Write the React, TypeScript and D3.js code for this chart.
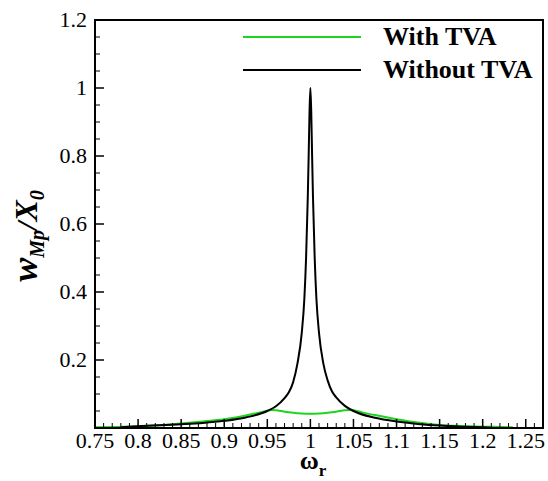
import React from "react";
import * as d3 from "d3";

// Frequency ratio samples and normalized midpoint response
const omegaWith = [0.75, 0.775, 0.8, 0.825, 0.85, 0.875, 0.9, 0.925, 0.94, 0.95, 0.955, 0.96, 0.97, 0.98, 0.99, 1.0, 1.01, 1.02, 1.03, 1.04, 1.045, 1.05, 1.06, 1.075, 1.1, 1.125, 1.15, 1.175, 1.2, 1.225, 1.235];
const responseWith = [0.002, 0.003, 0.005, 0.008, 0.013, 0.019, 0.026, 0.037, 0.045, 0.051, 0.053, 0.052, 0.048, 0.045, 0.043, 0.042, 0.043, 0.045, 0.048, 0.052, 0.053, 0.052, 0.046, 0.038, 0.026, 0.016, 0.009, 0.006, 0.004, 0.003, 0.002];

const omegaWithout = [0.78, 0.8, 0.85, 0.875, 0.9, 0.925, 0.95, 0.96, 0.97, 0.975, 0.98, 0.985, 0.99, 0.993, 0.995, 0.997, 0.998, 0.999, 1.0, 1.001, 1.002, 1.003, 1.005, 1.007, 1.01, 1.015, 1.02, 1.025, 1.03, 1.04, 1.05, 1.075, 1.1, 1.125, 1.15, 1.175, 1.2, 1.21];
const responseWithout = [0.002, 0.005, 0.011, 0.015, 0.021, 0.031, 0.05, 0.064, 0.088, 0.105, 0.135, 0.19, 0.28, 0.38, 0.5, 0.68, 0.8, 0.93, 1.0, 0.93, 0.8, 0.68, 0.5, 0.38, 0.28, 0.19, 0.14, 0.108, 0.09, 0.065, 0.05, 0.03, 0.019, 0.012, 0.007, 0.004, 0.002, 0.001];

const xMajorTicks = [0.75, 0.8, 0.85, 0.9, 0.95, 1, 1.05, 1.1, 1.15, 1.2, 1.25];
const yMajorTicks = [0.2, 0.4, 0.6, 0.8, 1, 1.2];

const seriesNames = ["With TVA", "Without TVA"];
const seriesColors = ["#1ed41e", "#000000"];

const W = 548;
const H = 481;
const left = 95;
const right = 543;
const top = 20;
const bottom = 428;

const serif = "'Liberation Serif', 'Times New Roman', 'DejaVu Serif', serif";

export default function App() {
  const x = d3.scaleLinear().domain([0.75, 1.27]).range([left, right]);
  const y = d3.scaleLinear().domain([0, 1.2]).range([bottom, top]);

  const line = d3
    .line<[number, number]>()
    .x((d) => x(d[0]))
    .y((d) => y(d[1]))
    .curve(d3.curveMonotoneX);

  const withData = omegaWith.map((o, i) => [o, responseWith[i]] as [number, number]);
  const withoutData = omegaWithout.map((o, i) => [o, responseWithout[i]] as [number, number]);

  const xMinor = d3.range(76, 127).map((v) => v / 100).filter((v) => Math.round(v * 100) % 5 !== 0);
  const yMinor = d3.range(1, 24).map((v) => v * 0.05).filter((v) => Math.round(v * 20) % 4 !== 0);

  const fmt = (v: number) => String(+v.toFixed(2));
  const txt = { fontFamily: serif };

  return (
    <svg width={W} height={H} style={{ position: "absolute", left: 0, top: 0, background: "#fff" }}>
      {/* curves */}
      <path d={line(withData) || ""} fill="none" stroke={seriesColors[0]} strokeWidth={2} />
      <path d={line(withoutData) || ""} fill="none" stroke={seriesColors[1]} strokeWidth={2} />

      {/* x ticks */}
      {xMajorTicks.map((t) => (
        <g key={"xm" + t}>
          <line x1={x(t)} x2={x(t)} y1={bottom} y2={bottom - 9} stroke="#000" strokeWidth={1.5} />
          <text x={x(t)} y={bottom + 20} textAnchor="middle" fontSize={22} style={txt}>
            {fmt(t)}
          </text>
        </g>
      ))}
      {xMinor.map((t) => (
        <line key={"xn" + t} x1={x(t)} x2={x(t)} y1={bottom} y2={bottom - 5} stroke="#000" strokeWidth={1} />
      ))}

      {/* y ticks */}
      {yMajorTicks.map((t) => (
        <g key={"ym" + t}>
          <line x1={left} x2={left + 9} y1={y(t)} y2={y(t)} stroke="#000" strokeWidth={1.5} />
          <text x={left - 8} y={y(t)} dy="0.33em" textAnchor="end" fontSize={22} style={txt}>
            {fmt(t)}
          </text>
        </g>
      ))}
      {yMinor.map((t) => (
        <line key={"yn" + t} x1={left} x2={left + 5} y1={y(t)} y2={y(t)} stroke="#000" strokeWidth={1} />
      ))}

      {/* frame */}
      <rect x={left} y={top} width={right - left} height={bottom - top} fill="none" stroke="#000" strokeWidth={2} />

      {/* legend */}
      {seriesNames.map((name, i) => (
        <g key={name}>
          <line x1={243} x2={361} y1={37 + i * 33} y2={37 + i * 33} stroke={seriesColors[i]} strokeWidth={2} />
          <text x={383} y={45 + i * 33} fontSize={26} fontWeight="bold" style={txt}>
            {name}
          </text>
        </g>
      ))}

      {/* x-axis title */}
      <text x={313} y={469} textAnchor="middle" fontWeight="bold" style={txt}>
        <tspan fontSize={26}>ω</tspan>
        <tspan fontSize={17} dy={7}>r</tspan>
      </text>

      {/* y-axis title */}
      <text transform="translate(37, 236) rotate(-90)" textAnchor="middle" fontWeight="bold" fontStyle="italic" style={txt}>
        <tspan fontSize={36}>w</tspan>
        <tspan fontSize={20} dy={7}>Mp</tspan>
        <tspan fontSize={30} dy={-7}>/</tspan>
        <tspan fontSize={32}>X</tspan>
        <tspan fontSize={20} dy={7}>0</tspan>
      </text>
    </svg>
  );
}
